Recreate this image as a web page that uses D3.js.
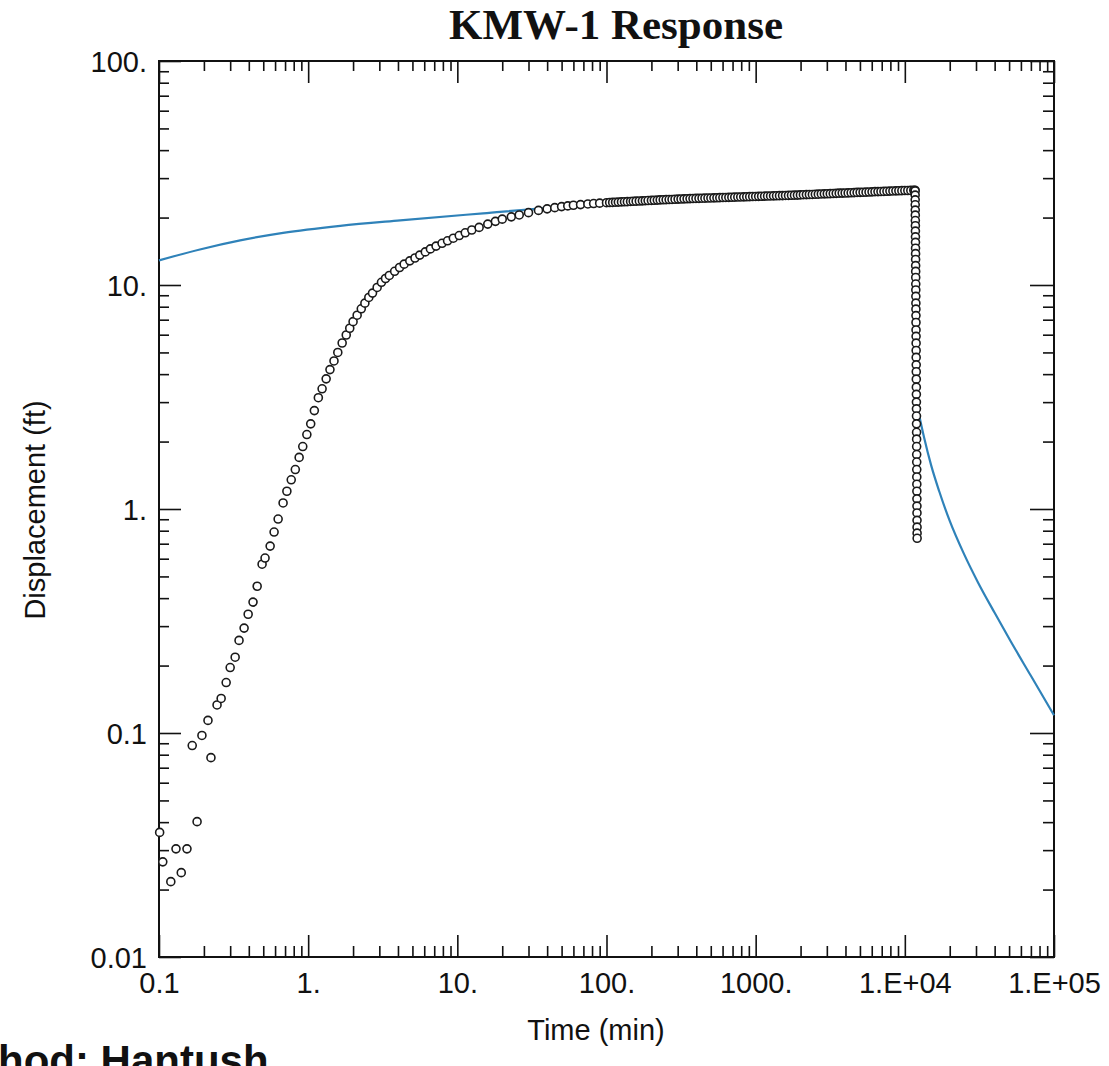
<!DOCTYPE html>
<html>
<head>
<meta charset="utf-8">
<script src="https://d3js.org/d3.v7.min.js"></script>
<style>
  body { margin: 0; background: #ffffff; }
  svg { display: block; }
</style>
</head>
<body>
<script>
// observed displacement, pumping start (sparse circles)
var earlyTime = [
  0.101, 0.106, 0.120, 0.130, 0.141, 0.154, 0.167, 0.180, 0.194, 0.213, 0.223, 0.245, 0.261,
  0.282, 0.300, 0.324, 0.344, 0.372, 0.396, 0.427, 0.455, 0.491, 0.514, 0.556, 0.591, 0.629, 0.679,
  0.72, 0.77, 0.82, 0.87, 0.92, 0.98, 1.04, 1.10, 1.17, 1.24, 1.32, 1.40, 1.49, 1.58, 1.69, 1.80,
  1.90, 2.0, 2.13, 2.27, 2.40, 2.55, 2.7, 2.9, 3.1, 3.3, 3.5, 3.8, 4.1, 4.4, 4.8, 5.2, 5.6, 6.1,
  6.6, 7.2, 7.9, 8.6, 9.4, 10.3, 11.3, 12.5, 14, 16, 18, 20, 23, 26, 30, 35, 40, 45, 50, 55, 60,
  67, 75, 82, 90
];
var earlyDisp = [
  0.036, 0.0266, 0.0217, 0.0304, 0.0238, 0.0304, 0.0879, 0.0402, 0.0975, 0.1138, 0.0776, 0.1334, 0.1426,
  0.168, 0.196, 0.218, 0.259, 0.294, 0.339, 0.384, 0.452, 0.567, 0.604, 0.683, 0.789, 0.902, 1.064,
  1.2, 1.35, 1.5, 1.7, 1.9, 2.15, 2.4, 2.75, 3.14, 3.44, 3.81, 4.19, 4.58, 5.0, 5.51, 5.98,
  6.41, 6.86, 7.33, 7.83, 8.30, 8.80, 9.2, 9.75, 10.28, 10.69, 11.03, 11.51, 11.97, 12.39, 12.82, 13.2, 13.6, 14.05,
  14.49, 14.92, 15.35, 15.75, 16.18, 16.63, 17.1, 17.6, 18.08, 18.7, 19.24, 19.68, 20.15, 20.55, 21.04, 21.53, 21.88, 22.15, 22.39, 22.55, 22.7,
  22.85, 23.0, 23.1, 23.2
];

// observed displacement, late pumping (dense band)
var bandTime = [
  100, 105, 110, 115, 120, 126, 132, 138, 145, 151, 158, 166, 174, 182, 190, 200, 209, 219, 229, 240,
  251, 263, 275, 288, 302, 316, 331, 347, 363, 380, 398, 417, 437, 457, 479, 501, 525, 550, 575, 603,
  631, 661, 692, 724, 759, 794, 832, 871, 912, 955, 1000, 1047, 1096, 1148, 1202, 1259, 1318, 1380,
  1445, 1514, 1585, 1660, 1738, 1820, 1905, 1995, 2089, 2188, 2291, 2399, 2512, 2630, 2754, 2884,
  3020, 3162, 3311, 3467, 3631, 3802, 3981, 4169, 4365, 4571, 4786, 5012, 5248, 5495, 5754, 6026,
  6310, 6607, 6918, 7244, 7586, 7943, 8318, 8710, 9120, 9550, 10000, 10471, 10965, 11482, 11700
];
var bandDisp = [
  23.3, 23.35, 23.38, 23.42, 23.45, 23.49, 23.52, 23.56, 23.6, 23.64, 23.68, 23.71, 23.75, 23.78, 23.82, 23.86, 23.9, 23.94, 23.98, 24.01,
  24.04, 24.07, 24.1, 24.14, 24.18, 24.21, 24.24, 24.27, 24.3, 24.32, 24.35, 24.37, 24.4, 24.42, 24.45, 24.47, 24.5, 24.52, 24.55, 24.57,
  24.6, 24.62, 24.65, 24.67, 24.7, 24.72, 24.75, 24.77, 24.8, 24.82, 24.85, 24.87, 24.9, 24.92, 24.95, 24.97, 25.0, 25.02,
  25.05, 25.07, 25.1, 25.12, 25.15, 25.18, 25.2, 25.25, 25.3, 25.32, 25.35, 25.37, 25.4, 25.45, 25.5, 25.52,
  25.55, 25.57, 25.6, 25.65, 25.7, 25.72, 25.75, 25.77, 25.8, 25.85, 25.9, 25.92, 25.95, 25.97, 26.0, 26.05,
  26.1, 26.12, 26.15, 26.17, 26.2, 26.25, 26.3, 26.32, 26.35, 26.37, 26.4, 26.42, 26.45, 26.48, 26.5
];

// observed displacement, recovery after the pump stopped
var recTime = [
  11720, 11727, 11734, 11741, 11748, 11755, 11762, 11769, 11776, 11783, 11790, 11797, 11804,
  11811, 11818, 11825, 11832, 11839, 11846, 11853, 11860, 11867, 11874, 11881, 11888, 11895,
  11902, 11909, 11916, 11923, 11930, 11937, 11944, 11951, 11958, 11965, 11972, 11979, 11986,
  11993, 12000, 12007, 12014, 12021, 12028, 12035, 12042, 12049, 12056, 12063, 12070, 12077,
  12084, 12091
];
var recDisp = [
  26.3, 25.2, 24.0, 22.8, 21.6, 20.5, 19.4, 18.4, 17.4, 16.4, 15.5, 14.6, 13.8,
  13.0, 12.2, 11.5, 10.8, 10.1, 9.5, 8.9, 8.3, 7.8, 7.3, 6.8, 6.3, 5.9,
  5.5, 5.1, 4.75, 4.4, 4.1, 3.8, 3.5, 3.25, 3.0, 2.8, 2.6, 2.4, 2.2,
  2.05, 1.9, 1.75, 1.62, 1.5, 1.39, 1.29, 1.2, 1.11, 1.03, 0.96, 0.89, 0.83,
  0.78, 0.74
];

// Hantush type curve (blue line)
var fitTime = [0.1, 0.188, 0.35, 0.679, 1.64, 4.14, 14.9, 42.1, 100, 1000, 10000, 11800, 11830, 11900,
  12000, 12500, 13500, 15000, 17000, 20000, 25000, 31000, 40000, 51000, 70000, 100000];
var fitDisp = [12.87, 14.41, 15.82, 17.09, 18.37, 19.44, 20.89, 22.11, 22.92, 24.6, 26.45, 26.6, 9.0, 4.2,
  3.0, 2.61, 2.07, 1.57, 1.2, 0.885, 0.627, 0.469, 0.344, 0.258, 0.18, 0.12];

// tick labels
var xMajor = [0.1, 1, 10, 100, 1000, 1e4, 1e5];
var xLabels = ["0.1", "1.", "10.", "100.", "1000.", "1.E+04", "1.E+05"];
var yMajor = [0.01, 0.1, 1, 10, 100];
var yLabels = ["0.01", "0.1", "1.", "10.", "100."];

var W = 1109, H = 1066;
var margin = {top: 61, right: 55, bottom: 109, left: 159};
var sans = "'Liberation Sans', Arial, Helvetica, sans-serif";

var svg = d3.select("body")
  .append("svg")
    .attr("width", W)
    .attr("height", H);

var x = d3.scaleLog()
  .domain([0.1, 1e5])
  .range([margin.left, W - margin.right]);
var y = d3.scaleLog()
  .domain([0.01, 100])
  .range([H - margin.bottom, margin.top]);

// all ticks: majors plus 2..9 in every decade
function allTicks(lo, hi) {
  var out = [];
  for (var d = lo; d < hi; d *= 10) {
    for (var k = 1; k < 10; k++) out.push(+(d * k).toPrecision(3));
  }
  out.push(hi);
  return out;
}
var xTicks = allTicks(0.1, 1e5);
var yTicks = allTicks(0.01, 100);
function isMajor(list) {
  return function(d) { return list.some(function(m) { return Math.abs(m - d) / m < 1e-6; }); };
}
var xIsMajor = isMajor(xMajor), yIsMajor = isMajor(yMajor);
function labelOf(majors, labels) {
  return function(d) {
    for (var i = 0; i < majors.length; i++) if (Math.abs(majors[i] - d) / d < 1e-6) return labels[i];
    return "";
  };
}

var bottomY = H - margin.bottom, rightX = W - margin.right;

// bottom axis
var gx = svg.append("g")
  .attr("transform", "translate(0," + bottomY + ")")
  .call(d3.axisBottom(x).tickValues(xTicks).tickSize(-11).tickPadding(15)
    .tickFormat(labelOf(xMajor, xLabels)));
gx.selectAll(".tick line").attr("y2", function(d) { return xIsMajor(d) ? -22 : -11; });

// top axis
var gt = svg.append("g")
  .attr("transform", "translate(0," + margin.top + ")")
  .call(d3.axisTop(x).tickValues(xTicks).tickSize(-10).tickFormat(""));
gt.selectAll(".tick line").attr("y2", function(d) { return xIsMajor(d) ? 22 : 10; });

// left axis
var gy = svg.append("g")
  .attr("transform", "translate(" + margin.left + ",0)")
  .call(d3.axisLeft(y).tickValues(yTicks).tickSize(-10).tickPadding(12)
    .tickFormat(labelOf(yMajor, yLabels)));
gy.selectAll(".tick line").attr("x2", function(d) { return yIsMajor(d) ? 22 : 10; });

// right axis
var gr = svg.append("g")
  .attr("transform", "translate(" + rightX + ",0)")
  .call(d3.axisRight(y).tickValues(yTicks).tickSize(-11).tickFormat(""));
gr.selectAll(".tick line").attr("x2", function(d) { return yIsMajor(d) ? -24 : -11; });

svg.selectAll(".domain").remove();
svg.selectAll(".tick line").attr("stroke", "#111").attr("stroke-width", 1.6);
svg.selectAll(".tick text")
  .attr("font-family", sans)
  .attr("font-size", 29)
  .attr("fill", "#111");
gy.selectAll(".tick text").attr("dy", "0.36em");

// frame
svg.append("rect")
  .attr("x", margin.left)
  .attr("y", margin.top)
  .attr("width", rightX - margin.left)
  .attr("height", bottomY - margin.top)
  .attr("fill", "none")
  .attr("stroke", "#111")
  .attr("stroke-width", 2);

// fitted curve
var fit = fitTime.map(function(t, i) { return [t, fitDisp[i]]; });
svg.append("path")
  .datum(fit)
  .attr("fill", "none")
  .attr("stroke", "#2f82b9")
  .attr("stroke-width", 2.2)
  .attr("d", d3.line()
    .x(function(d) { return x(d[0]); })
    .y(function(d) { return y(d[1]); })
    .curve(d3.curveMonotoneX));

// observed points
function pairs(ts, vs) { return ts.map(function(t, i) { return [t, vs[i]]; }); }
var obs = pairs(earlyTime, earlyDisp)
  .concat(pairs(bandTime, bandDisp))
  .concat(pairs(recTime, recDisp));
svg.append("g")
  .selectAll("circle")
  .data(obs)
  .enter()
  .append("circle")
    .attr("cx", function(d) { return x(d[0]); })
    .attr("cy", function(d) { return y(d[1]); })
    .attr("r", 4)
    .attr("fill", "#fff")
    .attr("stroke", "#1a1a1a")
    .attr("stroke-width", 1.6);

// title
svg.append("text")
  .attr("x", 783)
  .attr("y", 39)
  .attr("text-anchor", "end")
  .attr("font-family", "'Liberation Serif', 'Times New Roman', serif")
  .attr("font-weight", "bold")
  .attr("font-size", 43)
  .attr("fill", "#111")
  .text("KMW-1 Response");

// axis titles
svg.append("text")
  .attr("x", 596)
  .attr("y", 1040)
  .attr("text-anchor", "middle")
  .attr("font-family", sans)
  .attr("font-size", 29)
  .attr("fill", "#111")
  .text("Time (min)");

svg.append("text")
  .attr("transform", "translate(45," + 510 + ") rotate(-90)")
  .attr("text-anchor", "middle")
  .attr("font-family", sans)
  .attr("font-size", 29)
  .attr("fill", "#111")
  .text("Displacement (ft)");

// method note, cut off at the page edge as in the scan
svg.append("text")
  .attr("x", -2)
  .attr("y", 1075)
  .attr("font-family", sans)
  .attr("font-weight", "bold")
  .attr("font-size", 42)
  .attr("fill", "#111")
  .text("hod: Hantush");
</script>
</body>
</html>
